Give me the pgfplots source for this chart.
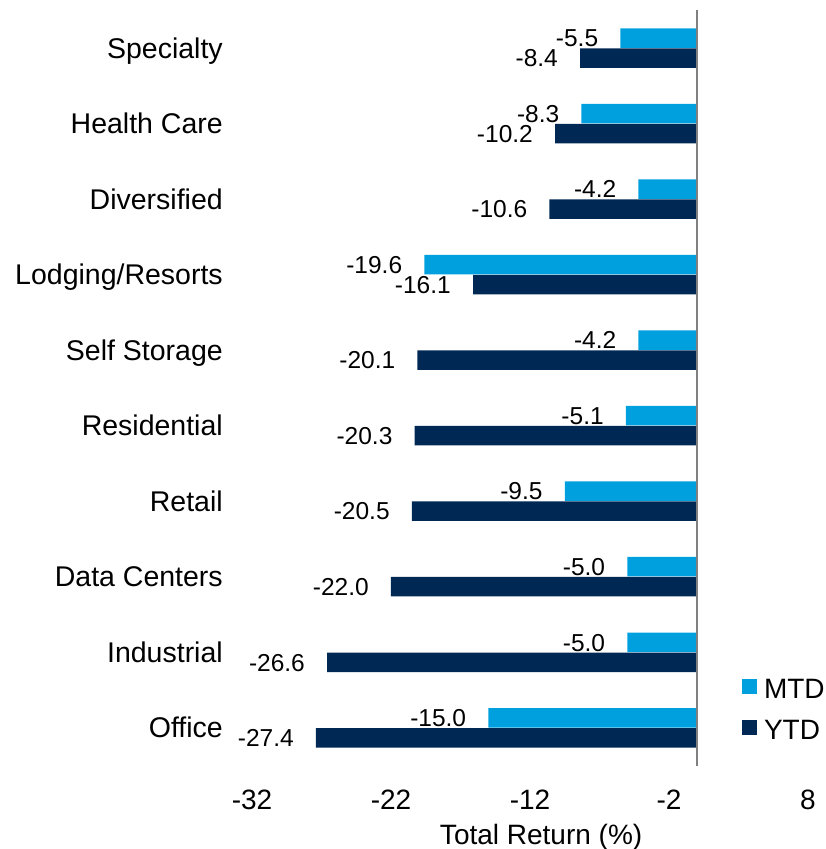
\documentclass[border=0pt]{standalone}
\usepackage{fontspec}
\setmainfont{Liberation Sans}
\usepackage{pgfplots}
\pgfplotsset{compat=1.18}
\definecolor{mtd}{RGB}{0,160,223}
\definecolor{ytd}{RGB}{0,40,85}
\newcommand{\fbig}{\fontsize{28}{33}\selectfont}
\newcommand{\fcat}{\fontsize{28.5}{33}\selectfont}
\newcommand{\fsmall}{\fontsize{24.5}{29}\selectfont}
\begin{document}
\begin{tikzpicture}
\useasboundingbox (-252pt,-83.5pt) rectangle (573pt,765.5pt);
\begin{axis}[
  at={(0,0)}, anchor=south west,
  scale only axis, width=556pt, height=755pt,
  xbar, bar width=19.5pt,
  xmin=-32, xmax=8, ymin=-0.5, ymax=9.5,
  xtick={-32,-22,-12,-2,8}, xticklabels={-32,-22,-12,-2,8},
  ytick={0,...,9},
  yticklabels={Office,Industrial,Data Centers,Retail,Residential,Self Storage,Lodging/Resorts,Diversified,Health Care,Specialty},
  axis line style={draw=none}, major tick length=0pt,
  xticklabel style={font=\fbig, yshift=-21pt},
  yticklabel style={font=\fcat, xshift=-25.7pt, text height=20pt, text depth=0pt},
  xlabel={Total Return (\%)},
  xlabel style={font=\fbig, at={(rel axis cs:0.52,0)}, anchor=north, yshift=-55.5pt},
  point meta=explicit symbolic,
  nodes near coords,
  every node near coord/.append style={font=\fsmall, anchor=east, xshift=-22pt, inner sep=0pt, text height=17.5pt, text depth=0pt, text=black},
  legend style={at={(rel axis cs:0.8813,0.0742)}, anchor=west, draw=none, fill=none, inner sep=0pt, outer sep=0pt, font=\fbig, row sep=21pt, column sep=7pt, nodes={inner sep=0pt, text height=20pt, text depth=0pt}},
  legend image code/.code={\fill[#1] (0pt,-5.5pt) rectangle (15pt,9.5pt);},
  legend cell align=left,
]
\addplot[fill=mtd, draw=none, bar shift=10pt] coordinates {
(-15.0,0) [-15.0]
(-5.0,1) [-5.0]
(-5.0,2) [-5.0]
(-9.5,3) [-9.5]
(-5.1,4) [-5.1]
(-4.2,5) [-4.2]
(-19.6,6) [-19.6]
(-4.2,7) [-4.2]
(-8.3,8) [-8.3]
(-5.5,9) [-5.5]
};
\addplot[fill=ytd, draw=none, bar shift=-10pt] coordinates {
(-27.4,0) [-27.4]
(-26.6,1) [-26.6]
(-22.0,2) [-22.0]
(-20.5,3) [-20.5]
(-20.3,4) [-20.3]
(-20.1,5) [-20.1]
(-16.1,6) [-16.1]
(-10.6,7) [-10.6]
(-10.2,8) [-10.2]
(-8.4,9) [-8.4]
};
\legend{MTD,YTD}
\draw[color=gray, line width=2pt] (axis cs:0,-0.5) -- (axis cs:0,9.5);
\end{axis}
\end{tikzpicture}
\end{document}
